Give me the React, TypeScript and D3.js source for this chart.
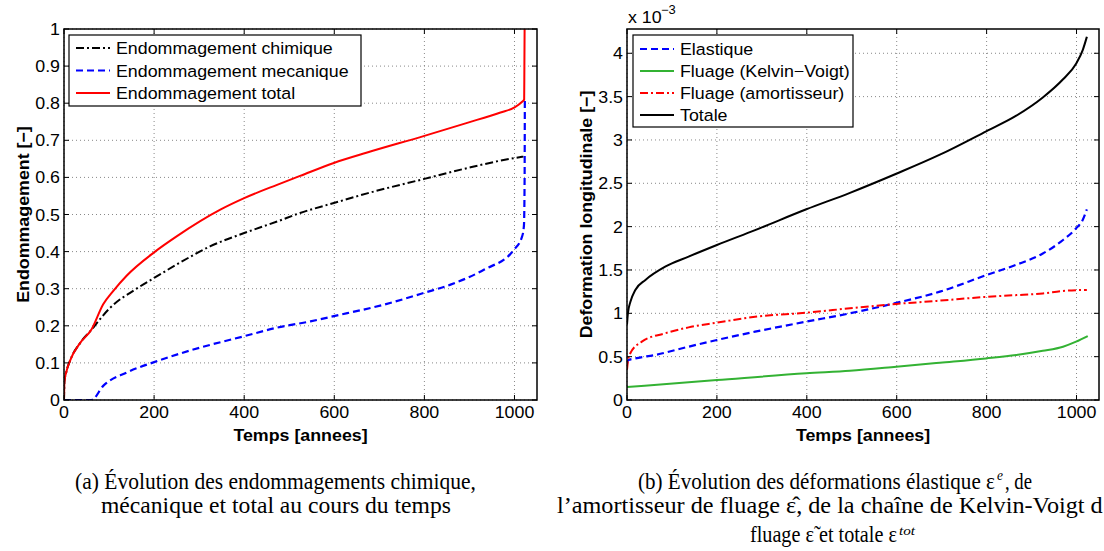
import React, { useLayoutEffect, useRef, useState } from 'react';
import * as d3 from 'd3';

// ---------- data ----------
const xTicks = [0, 200, 400, 600, 800, 1000];
const dmgTicks = [0, 0.1, 0.2, 0.3, 0.4, 0.5, 0.6, 0.7, 0.8, 0.9, 1];
const defTicks = [0, 0.5, 1, 1.5, 2, 2.5, 3, 3.5, 4];

// (a) damage
const chemT = [0, 1, 5, 13, 36, 65, 72, 102, 161, 200, 250, 324, 400, 473, 524, 599, 673, 800, 895, 999, 1020];
const chemV = [0, 0.05, 0.075, 0.105, 0.154, 0.195, 0.206, 0.248, 0.3, 0.329, 0.365, 0.414, 0.45, 0.481, 0.504, 0.531, 0.557, 0.596, 0.625, 0.652, 0.656];
const mechT = [0, 61, 87, 139, 200, 287, 400, 473, 547, 599, 710, 800, 858, 932, 999, 1017, 1021, 1022.5, 1023];
const mechV = [0, 0, 0.038, 0.074, 0.102, 0.136, 0.172, 0.195, 0.212, 0.226, 0.257, 0.289, 0.311, 0.351, 0.405, 0.441, 0.47, 0.6, 0.81];
const totT = [0, 1, 5, 13, 36, 61, 87, 110, 139, 200, 250, 347, 400, 473, 524, 599, 673, 800, 895, 969, 999, 1017, 1021.5, 1022, 1022.5];
const totV = [0, 0.05, 0.075, 0.105, 0.154, 0.19, 0.258, 0.295, 0.335, 0.398, 0.441, 0.513, 0.544, 0.58, 0.604, 0.639, 0.667, 0.712, 0.747, 0.775, 0.788, 0.804, 0.81, 0.9, 1.0];

// (b) strains (x 1e-3)
const elasT = [0, 3, 18.5, 63, 137, 200, 285, 399, 496, 599, 696, 799, 866, 925, 970, 999, 1014, 1023];
const elasV = [0.42, 0.46, 0.48, 0.52, 0.615, 0.692, 0.788, 0.904, 1.0, 1.12, 1.25, 1.44, 1.56, 1.69, 1.846, 1.98, 2.08, 2.2];
const kvT = [0, 200, 399, 496, 599, 696, 799, 866, 925, 970, 999, 1025];
const kvV = [0.15, 0.23, 0.308, 0.338, 0.384, 0.43, 0.48, 0.519, 0.567, 0.615, 0.673, 0.738];
const dampT = [0, 3, 7.4, 33, 85, 137, 200, 285, 399, 496, 599, 696, 799, 866, 925, 970, 1023];
const dampV = [0.35, 0.48, 0.54, 0.673, 0.77, 0.838, 0.892, 0.96, 1.007, 1.058, 1.108, 1.146, 1.19, 1.21, 1.23, 1.258, 1.27];
const totalT = [0, 2, 7.4, 18.5, 41, 85, 137, 200, 285, 399, 496, 599, 696, 799, 866, 925, 970, 999, 1014, 1023];
const totalV = [0.87, 1.0, 1.13, 1.269, 1.385, 1.538, 1.654, 1.788, 1.96, 2.2, 2.39, 2.61, 2.83, 3.1, 3.28, 3.49, 3.7, 3.88, 4.04, 4.19];

const legendA = ['Endommagement chimique', 'Endommagement mecanique', 'Endommagement total'];
const legendB = ['Elastique', 'Fluage (Kelvin\u2212Voigt)', 'Fluage (amortisseur)', 'Totale'];

// ---------- styles ----------
const SANS = "'Liberation Sans', Arial, Helvetica, sans-serif";
const SERIF = "'Liberation Serif', 'Times New Roman', Times, serif";
const FS = 16.5;
const SX = 1.08;
const GREEN = '#33b233';
const DASH = '7,4';
const DASHDOT = '8,3,2,3';

type S = { t: number[]; v: number[]; color: string; dash?: string; width: number };

function T(props: any) {
  const { x, y, anchor = 'start', size = FS, weight = 'normal', rot = 0, children, sx = SX } = props;
  return (
    <text
      transform={`translate(${x},${y}) rotate(${rot}) scale(${sx},1)`}
      textAnchor={anchor}
      fontFamily={SANS}
      fontSize={size}
      fontWeight={weight}
      fill="#000"
    >
      {children}
    </text>
  );
}

// caption text: measured, then scaled horizontally to the target width
function Cap(props: any) {
  const { x, y, w, children, size = 23, italic = false } = props;
  const ref = useRef<SVGTextElement>(null);
  const [k, setK] = useState(1);
  useLayoutEffect(() => {
    if (ref.current) {
      const L = ref.current.getComputedTextLength();
      if (L > 0) setK(w / L);
    }
  }, [w]);
  return (
    <text
      ref={ref}
      transform={`translate(${x},${y}) scale(${k},1)`}
      fontFamily={SERIF}
      fontSize={size}
      fontStyle={italic ? 'italic' : 'normal'}
      fill="#000"
    >
      {children}
    </text>
  );
}

function Panel(props: any) {
  const { id, x0, x1, y0, y1, yMax, yTicks, fmt, series, yLabel, legend, leg } = props;
  const xs = d3.scaleLinear().domain([0, 1050]).range([x0, x1]);
  const ys = d3.scaleLinear().domain([0, yMax]).range([y1, y0]);
  const line = d3
    .line<[number, number]>()
    .x((d) => xs(d[0]))
    .y((d) => ys(d[1]))
    .curve(d3.curveMonotoneX);
  const tl = 5;
  return (
    <g>
      <defs>
        <clipPath id={id}>
          <rect x={x0} y={y0} width={x1 - x0} height={y1 - y0} />
        </clipPath>
      </defs>
      <rect x={x0} y={y0} width={x1 - x0} height={y1 - y0} fill="#fff" />
      {xTicks.map((t) => (
        <line key={'gx' + t} x1={xs(t)} x2={xs(t)} y1={y0} y2={y1} stroke="#888" strokeWidth={1} strokeDasharray="1,3" />
      ))}
      {yTicks.map((t: number) => (
        <line key={'gy' + t} x1={x0} x2={x1} y1={ys(t)} y2={ys(t)} stroke="#888" strokeWidth={1} strokeDasharray="1,3" />
      ))}
      <g clipPath={`url(#${id})`}>
        {series.map((s: S, i: number) => (
          <path
            key={i}
            d={line(s.t.map((t, j) => [t, s.v[j]] as [number, number])) || ''}
            fill="none"
            stroke={s.color}
            strokeWidth={s.width}
            strokeDasharray={s.dash}
            strokeLinejoin="round"
          />
        ))}
      </g>
      {xTicks.map((t) => (
        <g key={'tx' + t}>
          <line x1={xs(t)} x2={xs(t)} y1={y1} y2={y1 - tl} stroke="#000" />
          <line x1={xs(t)} x2={xs(t)} y1={y0} y2={y0 + tl} stroke="#000" />
          <T x={xs(t)} y={y1 + 18} anchor="middle">{String(t)}</T>
        </g>
      ))}
      {yTicks.map((t: number) => (
        <g key={'ty' + t}>
          <line x1={x0} x2={x0 + tl} y1={ys(t)} y2={ys(t)} stroke="#000" />
          <line x1={x1} x2={x1 - tl} y1={ys(t)} y2={ys(t)} stroke="#000" />
          <T x={x0 - 4} y={ys(t) + 6} anchor="end">{fmt(t)}</T>
        </g>
      ))}
      <rect x={x0} y={y0} width={x1 - x0} height={y1 - y0} fill="none" stroke="#000" strokeWidth={1.5} />
      <T x={(x0 + x1) / 2} y={y1 + 41} anchor="middle" weight="bold">Temps [annees]</T>
      <T x={x0 - 35} y={(y0 + y1) / 2} anchor="middle" weight="bold" rot={-90}>{yLabel}</T>
      <rect x={leg.x} y={leg.y} width={leg.w} height={leg.h} fill="#fff" stroke="#000" strokeWidth={1.2} />
      {legend.map((name: string, i: number) => {
        const s: S = series[leg.order[i]];
        const cy = leg.y + leg.first + i * leg.step;
        return (
          <g key={'lg' + i}>
            <line x1={leg.x + 7} x2={leg.x + 41} y1={cy} y2={cy} stroke={s.color} strokeWidth={s.width} strokeDasharray={s.dash} />
            <T x={leg.x + 47} y={cy + 6}>{name}</T>
          </g>
        );
      })}
    </g>
  );
}

export default function App() {
  const seriesA: S[] = [
    { t: chemT, v: chemV, color: '#000', dash: DASHDOT, width: 2 },
    { t: mechT, v: mechV, color: '#0000ff', dash: DASH, width: 2.2 },
    { t: totT, v: totV, color: '#ff0000', width: 2 },
  ];
  const seriesB: S[] = [
    { t: elasT, v: elasV, color: '#0000ff', dash: DASH, width: 2.2 },
    { t: kvT, v: kvV, color: GREEN, width: 2 },
    { t: dampT, v: dampV, color: '#ff0000', dash: DASHDOT, width: 2 },
    { t: totalT, v: totalV, color: '#000', width: 2 },
  ];
  const fmtA = (v: number) => (v === 0 ? '0' : v === 1 ? '1' : d3.format('.1f')(v));
  const fmtB = (v: number) => String(v);
  return (
    <svg width={1104} height={551} style={{ position: 'absolute', left: 0, top: 0 }} xmlns="http://www.w3.org/2000/svg">
      <rect width={1104} height={551} fill="#fff" />
      <Panel
        id="clipA"
        x0={64}
        x1={537}
        y0={29}
        y1={400}
        yMax={1}
        yTicks={dmgTicks}
        fmt={fmtA}
        series={seriesA}
        yLabel={'Endommagement [\u2212]'}
        legend={legendA}
        leg={{ x: 69, y: 35, w: 292, h: 71, first: 13, step: 22.5, order: [0, 1, 2] }}
      />
      <Panel
        id="clipB"
        x0={627}
        x1={1099}
        y0={29}
        y1={400}
        yMax={4.28}
        yTicks={defTicks}
        fmt={fmtB}
        series={seriesB}
        yLabel={'Deformation longitudinale [\u2212]'}
        legend={legendB}
        leg={{ x: 633, y: 35, w: 220, h: 92, first: 14, step: 22, order: [0, 1, 2, 3] }}
      />
      <T x={628} y={23}>x 10</T>
      <T x={661} y={14} size={12}>{'\u22123'}</T>
      <Cap x={75} y={489} w={401}>(a)  Évolution des endommagements chimique,</Cap>
      <Cap x={101} y={513} w={350}>mécanique et total au cours du temps</Cap>
      <Cap x={638} y={489} w={357}>(b)  Évolution des déformations élastique ε</Cap>
      <Cap x={997} y={480} w={6} size={14} italic>e</Cap>
      <Cap x={1005} y={489} w={27}>, de</Cap>
      <Cap x={557} y={513} w={546}>l’amortisseur de fluage ε̂, de la chaîne de Kelvin-Voigt d</Cap>
      <Cap x={750} y={542} w={147}>fluage ε̃ et totale ε</Cap>
      <Cap x={899} y={535} w={16} size={13} italic>tot</Cap>
    </svg>
  );
}
